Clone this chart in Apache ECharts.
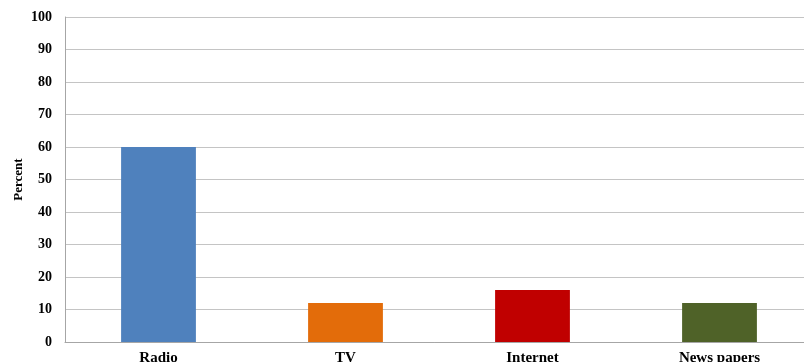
<!DOCTYPE html>
<html>
<head>
<meta charset="utf-8">
<script src="https://cdn.jsdelivr.net/npm/echarts@6/dist/echarts.min.js"></script>
<style>
  html, body { margin: 0; padding: 0; background: #fff; }
  #chart { width: 804px; height: 362px; }
</style>
</head>
<body>
<div id="chart"></div>
<script>
// Media sources and their share of respondents
const categories = ['Radio', 'TV', 'Internet', 'News papers'];
const percentValues = [60, 12, 16, 12];
const barColors = ['#4F81BD', '#E36C0A', '#C00000', '#4F6228'];
const yTicks = { min: 0, max: 100, interval: 10 };

const chart = echarts.init(document.getElementById('chart'));
chart.setOption({
  animation: false,
  backgroundColor: '#ffffff',
  // the plot area runs a little past the right edge of the canvas
  grid: { left: 65, top: 17, width: 748, height: 325, containLabel: false, outerBoundsMode: 'none' },
  xAxis: {
    type: 'category',
    data: categories,
    axisLine: { show: true, lineStyle: { color: '#a6a6a6', width: 1 } },
    axisTick: { show: false },
    axisLabel: {
      color: '#000',
      fontFamily: 'Liberation Serif',
      fontWeight: 'bold',
      fontSize: 15,
      margin: 9
    }
  },
  yAxis: {
    type: 'value',
    min: yTicks.min,
    max: yTicks.max,
    interval: yTicks.interval,
    name: 'Percent',
    nameLocation: 'middle',
    nameGap: 40,
    nameRotate: 90,
    nameMoveOverlap: false,
    nameTextStyle: {
      color: '#000',
      fontFamily: 'Liberation Serif',
      fontWeight: 'bold',
      fontSize: 13
    },
    axisLine: { show: true, lineStyle: { color: '#a6a6a6', width: 1 } },
    axisTick: { show: false },
    axisLabel: {
      color: '#000',
      fontFamily: 'Liberation Serif',
      fontWeight: 'bold',
      fontSize: 14,
      margin: 13
    },
    splitLine: { show: true, lineStyle: { color: '#c4c4c4', width: 1 } }
  },
  series: [{
    type: 'bar',
    barWidth: '40%',
    data: percentValues.map((v, i) => ({ value: v, itemStyle: { color: barColors[i] } }))
  }]
});
</script>
</body>
</html>
